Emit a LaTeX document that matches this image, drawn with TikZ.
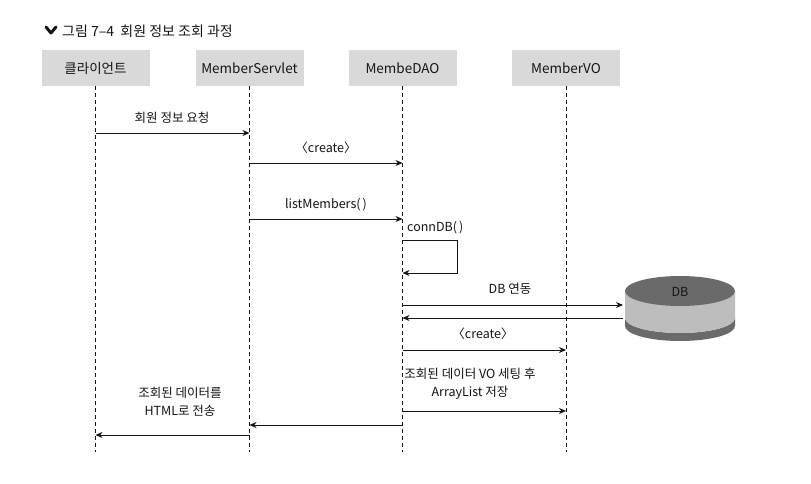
\documentclass[tikz,border=0pt]{standalone}
\usepackage{fontspec}
\setmainfont{Noto Sans CJK KR}
\usetikzlibrary{arrows.meta}
\definecolor{ink}{HTML}{151515}
\definecolor{boxgray}{HTML}{D9D9D9}
\definecolor{dbtop}{HTML}{6A6A6A}
\definecolor{dbside}{HTML}{BDBDBD}
\tikzset{
  headbox/.style={fill=boxgray, draw=none, minimum width=108pt, minimum height=36pt, font=\fontsize{13.5}{15}\selectfont, text=ink, inner sep=0pt},
  lifeline/.style={draw=ink, dashed, dash pattern=on 4pt off 3pt, line width=0.8pt},
  msg/.style={draw=ink, line width=0.9pt, -{Stealth[length=7pt,width=6pt]}},
  lbl/.style={font=\fontsize{12.5}{18}\selectfont, text=ink, inner sep=0pt, align=center},
}
\begin{document}
\begin{tikzpicture}[x=1pt,y=-1pt]
\useasboundingbox[fill=white] (0,0) rectangle (811,484);
% title
\draw[ink, line width=3pt, line cap=round, line join=round] (46,27) -- (51,33) -- (56,27);
\node[anchor=west, font=\fontsize{14}{16}\selectfont, text=ink, inner sep=0pt] (title) at (62,31) {그림 7–4\ \ 회원 정보 조회 과정};
% header boxes
\node[headbox] (client) at (95.5,68) {클라이언트};
\node[headbox] (servlet) at (249.5,68) {MemberServlet};
\node[headbox] (dao) at (402.5,68) {MembeDAO};
\node[headbox] (vo) at (566,68) {MemberVO};
% lifeline ends
\coordinate (clientEnd) at (95.5,452);
\coordinate (servletEnd) at (249.5,452);
\coordinate (daoEnd) at (402.5,452);
\coordinate (voEnd) at (566,452);
\draw[lifeline] (client.south) -- (clientEnd);
\draw[lifeline] (servlet.south) -- (servletEnd);
\draw[lifeline] (dao.south) -- (daoEnd);
\draw[lifeline] (vo.south) -- (voEnd);
% DB cylinder
\fill[dbtop] (625,318) -- (625,326) arc[start angle=180, end angle=0, x radius=55, y radius=15] -- (735,318) arc[start angle=0, end angle=180, x radius=55, y radius=15] -- cycle;
\fill[dbside] (625,291) -- (625,318) arc[start angle=180, end angle=0, x radius=55, y radius=15] -- (735,291) -- cycle;
\fill[dbtop] (680,291) ellipse[x radius=55, y radius=15];
\node[lbl] (db) at (680,292) {DB};
\coordinate (dbIn) at (623,305);
\coordinate (dbOut) at (623,318);
% messages
\draw[msg] (client.south |- 0,133) -- (servlet.south |- 0,133);
\node[lbl] (m1) at (172,118) {회원 정보 요청};
\draw[msg] (servlet.south |- 0,163) -- (dao.south |- 0,163);
\node[lbl] (m2) at (326,148) {〈create〉};
\draw[msg] (servlet.south |- 0,219) -- (dao.south |- 0,219);
\node[lbl] (m3) at (326,205) {listMembers(\,)};
\node[lbl, anchor=west] (m4) at (407,228) {connDB(\,)};
\coordinate (loopA) at (457,240);
\coordinate (loopB) at (457,273);
\draw[msg] (dao.south |- loopA) -- (loopA) -- (loopB) -- (dao.south |- loopB);
\draw[msg] (dao.south |- dbIn) -- (dbIn);
\node[lbl] (m5) at (510,289) {DB 연동};
\draw[msg] (dbOut) -- (dao.south |- dbOut);
\draw[msg] (dao.south |- 0,350) -- (vo.south |- 0,350);
\node[lbl] (m6) at (483,334) {〈create〉};
\draw[msg] (dao.south |- 0,411) -- (vo.south |- 0,411);
\node[lbl] (m7) at (470,384) {조회된 데이터 VO 세팅 후\\ArrayList 저장};
\draw[msg] (dao.south |- 0,425) -- (servlet.south |- 0,425);
\draw[msg] (servlet.south |- 0,435) -- (client.south |- 0,435);
\node[lbl] (m8) at (180,402) {조회된 데이터를\\HTML로 전송};
\end{tikzpicture}
\end{document}
